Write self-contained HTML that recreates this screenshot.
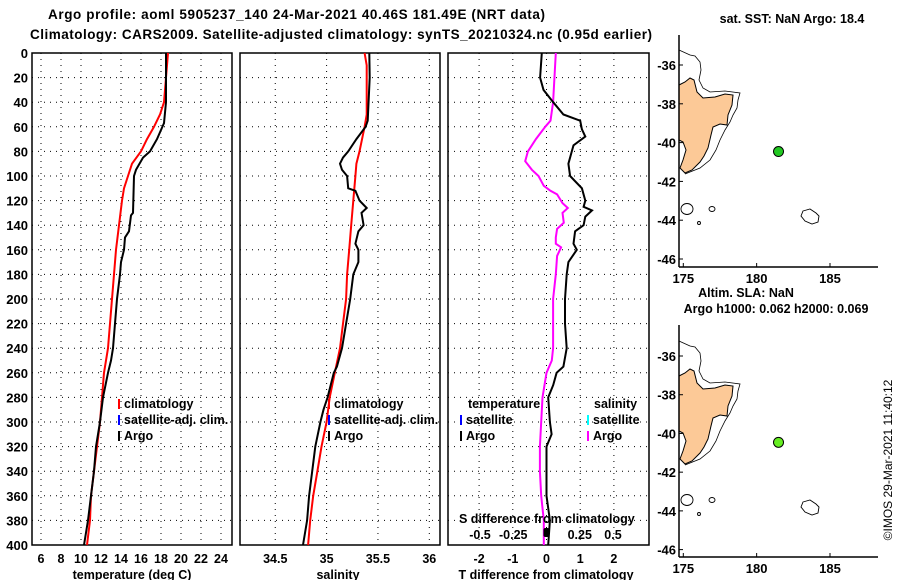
<!DOCTYPE html>
<html><head><meta charset="utf-8"><style>
body{margin:0;background:#fff;}
svg{display:block;font-family:"Liberation Sans",Arial,sans-serif;font-weight:bold;}
</style></head><body>
<svg id="c" width="900" height="580" viewBox="0 0 900 580"></svg>
<script>
// ---- data ----
const depthT = [0,40,57,70,80,85,95,100,130,132,145,150,160,170,180,200,220,240,250,260,280,300,320,340,360,380,400];
const argoTemp = [18.5,18.5,18.3,17.6,16.9,16.2,15.5,15.3,15.2,15.0,14.8,14.4,14.3,14.0,13.9,13.6,13.4,13.2,13.0,12.7,12.2,11.9,11.5,11.3,11.0,10.7,10.3];
const depthC = [0,40,50,60,70,80,90,100,110,120,140,160,180,200,220,240,260,280,300,320,340,360,380,400];
const climTemp = [18.7,18.3,17.9,17.3,16.6,16.0,15.1,14.7,14.3,14.1,13.8,13.5,13.3,13.1,12.9,12.7,12.3,12.1,11.9,11.6,11.3,11.0,10.9,10.6];
const depthS = [0,20,55,60,70,80,85,90,95,100,110,112,120,126,130,140,145,155,160,170,180,200,220,240,255,260,280,290,300,320,340,360,380,400];
const argoSal = [35.416,35.42,35.40,35.38,35.29,35.21,35.16,35.13,35.15,35.20,35.21,35.28,35.32,35.39,35.34,35.36,35.31,35.28,35.31,35.31,35.26,35.23,35.19,35.15,35.10,35.07,35.01,34.97,34.94,34.89,34.86,34.83,34.81,34.77];
const depthCS = [0,10,50,60,80,90,100,120,140,160,180,200,220,240,260,280,300,320,340,360,380,400];
const climSal = [35.37,35.39,35.39,35.37,35.32,35.29,35.28,35.26,35.24,35.22,35.20,35.19,35.16,35.13,35.08,35.03,35.00,34.95,34.91,34.87,34.84,34.82];
const depthTD = [0,20,30,40,50,55,62,68,75,80,90,100,110,120,125,128,133,140,145,155,160,170,180,200,220,240,255,260,270,280,300,310,320,340,360,380,400];
const tDiff = [-0.14,-0.19,-0.09,0.2,0.5,1.0,1.05,1.15,0.8,0.75,0.65,0.7,1.05,1.15,1.1,1.35,1.15,1.1,0.85,0.8,0.9,0.65,0.6,0.55,0.55,0.6,0.5,0.3,0.2,0.05,0.1,0.15,0,0,0,0.1,0.05];
const depthSD = [0,40,55,60,70,80,88,95,100,108,112,115,122,126,130,138,143,150,155,158,165,180,200,240,250,260,280,300,320,340,360,380,400];
const sDiff = [0.07,0.05,0.03,-0.01,-0.08,-0.14,-0.16,-0.11,-0.06,-0.02,0.03,0.08,0.12,0.16,0.12,0.13,0.08,0.07,0.07,0.11,0.08,0.07,0.05,0.05,0.04,0.0,-0.03,-0.04,-0.05,-0.05,-0.04,-0.02,-0.02];
const depthTicks = [0,20,40,60,80,100,120,140,160,180,200,220,240,260,280,300,320,340,360,380,400];
const tempTicks = [6,8,10,12,14,16,18,20,22,24];
const salTicks = [34.5,35,35.5,36];
const salTickLabels = ["34.5","35","35.5","36"];
const tdTicks = [-2,-1,0,1,2];
const sdTicks = [-0.5,-0.25,0,0.25,0.5];
const sdTickLabels = ["-0.5","-0.25","","0.25","0.5"];
const latTicks = [-36,-38,-40,-42,-44,-46];
const lonTicks = [175,180,185];
const argoLon = 181.49, argoLat = -40.46;

// ---- scales ----
const yD = d => 53 + d*1.23;
const xT = t => 41 + (t-6)*10;
const xS = s => 326.6 + (s-35)*102.7;
const xTD = t => 546.5 + t*33.7;
const xSD = s => 546.5 + s*133;
const xLon = l => 683.3 + (l-175)*14.67;
const yLat1 = l => 65 + (-36-l)*19.4;
const yLat2 = l => 356 + (-36-l)*19.36;

const NS="http://www.w3.org/2000/svg";
const svg=document.getElementById('c');
function mk(tag,attrs,parent){const e=document.createElementNS(NS,tag);for(const k in attrs)e.setAttribute(k,attrs[k]);(parent||svg).appendChild(e);return e;}
function txt(s,x,y,size,anchor,parent){const e=mk('text',{x:x,y:y,'font-size':size,'text-anchor':anchor||'start',fill:'#000'},parent);e.textContent=s;return e;}

// titles
let t1=txt("Argo profile: aoml 5905237_140 24-Mar-2021 40.46S 181.49E (NRT data)",48,19,13.5);
t1.setAttribute('textLength','497');


let t2=txt("Climatology: CARS2009. Satellite-adjusted climatology: synTS_20210324.nc (0.95d earlier)",30,39,13.5);
t2.setAttribute('textLength','622');



function panel(x0,x1,name,vticks,vx){
  const g=mk('g',{});
  
  
  depthTicks.forEach(d=>{if(d>0&&d<400)mk('line',{x1:x0,x2:x1,y1:yD(d),y2:yD(d),stroke:'#000','stroke-width':1,'stroke-dasharray':'1,5'},g);});
  vticks.forEach(v=>{const x=vx(v);mk('line',{x1:x,x2:x,y1:yD(0),y2:yD(400),stroke:'#000','stroke-width':1,'stroke-dasharray':'1,5'},g);});
  mk('rect',{x:x0,y:yD(0),width:x1-x0,height:yD(400)-yD(0),fill:'none',stroke:'#000','stroke-width':1.5},g);
  return g;
}
function line(xs,ds,xf,color,name,w){
  const p=xs.map((v,i)=>(i?'L':'M')+xf(v).toFixed(1)+','+yD(ds[i]).toFixed(1)).join(' ');
  const e=mk('path',{d:p,fill:'none',stroke:color,'stroke-width':w||2});
  
  
}

// panel 1
const g1=panel(32,232,'temperature-panel',tempTicks,xT);
depthTicks.forEach(d=>{const e=txt(String(d),28,yD(d)+5,13,'end');});
tempTicks.forEach(t=>{const e=txt(String(t),xT(t),563,12.5,'middle');});
let a1=txt("temperature (deg C)",132,579,12.5,'middle');


line(climTemp,depthC,xT,'#f00','temp-climatology-line');
line(argoTemp,depthT,xT,'#000','temp-argo-line');

// panel 2
const g2=panel(240,440,'salinity-panel',salTicks,xS);
salTicks.forEach((s,i)=>{const e=txt(salTickLabels[i],xS(s),563,12.5,'middle');});
let a2=txt("salinity",338,579,12.5,'middle');


line(climSal,depthCS,xS,'#f00','salinity-climatology-line');
line(argoSal,depthS,xS,'#000','salinity-argo-line');

// panel 3
const g3=panel(448,649,'difference-panel',tdTicks,xTD);
tdTicks.forEach(t=>{const e=txt(String(t),xTD(t),563,12.5,'middle');});
let a3=txt("T difference from climatology",546,579,12.5,'middle');


line(sDiff,depthSD,xSD,'#f0f','salinity-diff-line');
line(tDiff,depthTD,xTD,'#000','temp-diff-line');
let sl=txt("S difference from climatology",459,523,12.5);


sdTicks.forEach((s,i)=>{if(sdTickLabels[i]){const e=txt(sdTickLabels[i],xSD(s),539,12.5,'middle');}});
let zm=mk('rect',{x:xSD(0)-3,y:528,width:6,height:9,rx:2,fill:'#000'});



// legends
function legEntry(x,y,color,label,name){
  const g=mk('g',{});
  
  
  mk('rect',{x:x,y:y-9,width:2,height:10,fill:color},g);
  txt(label,x+6,y,12.5,'start',g);
}
legEntry(118,408,'#f00','climatology','legend-climatology');
legEntry(118,424,'#00f','satellite-adj. clim.','legend-satellite-adj');
legEntry(118,440,'#000','Argo','legend-argo');
legEntry(328,408,'#f00','climatology','legend-sal-climatology');
legEntry(328,424,'#00f','satellite-adj. clim.','legend-sal-satellite-adj');
legEntry(328,440,'#000','Argo','legend-sal-argo');
let lt=txt("temperature",468,408,12.5);
legEntry(460,424,'#00f','satellite','legend-t-satellite');
legEntry(460,440,'#000','Argo','legend-t-argo');
let ls=txt("salinity",594,408,12.5);
legEntry(587,424,'#0ff','satellite','legend-s-satellite');
legEntry(587,440,'#f0f','Argo','legend-s-argo');

// maps
function map(top,bottom,yLat,dy,dotColor,name){
  const g=mk('g',{});
  
  
  const c=mk('g',{transform:'translate(0,'+dy+')'},g);
  mk('path',{d:'M679,50 L690,55 L695,56 L700,62 L701,70 L699,80 L703,88 L710,92 L725,91 L740,93 L738,100 L737,108 L733,115 L730,122 L725,130 L720,140 L716,150 L710,160 L700,168 L690,172 L685,174',fill:'none',stroke:'#000','stroke-width':0.8},c);
  mk('path',{d:'M679,85 L685,82 L690,78 L694,80 L697,92 L703,98 L715,97 L725,94 L733,95 L732,105 L728,115 L727,125 L720,124 L713,127 L711,135 L708,148 L704,156 L700,162 L692,170 L685,173 L680,168 L683,160 L686,150 L683,142 L679,140 Z',fill:'#fcc997',stroke:'#000','stroke-width':1},c);
  mk('ellipse',{cx:687,cy:209,rx:6,ry:5.5,fill:'none',stroke:'#000','stroke-width':0.9},c);
  mk('ellipse',{cx:712,cy:209,rx:3,ry:2.5,fill:'none',stroke:'#000','stroke-width':0.9},c);
  mk('circle',{cx:699,cy:223,r:1.5,fill:'none',stroke:'#000','stroke-width':0.9},c);
  mk('path',{d:'M803,211 L810,209 L816,213 L819,216 L818,222 L812,224 L805,221 L801,216 Z',fill:'none',stroke:'#000','stroke-width':0.9},c);
  mk('line',{x1:679,x2:679,y1:top,y2:bottom,stroke:'#000','stroke-width':1.5},g);
  mk('line',{x1:679,x2:878,y1:bottom,y2:bottom,stroke:'#000','stroke-width':1.5},g);
  latTicks.forEach(l=>{const y=yLat(l);mk('line',{x1:679,x2:683,y1:y,y2:y,stroke:'#000'},g);txt(String(l),676,y+5,13,'end',g);});
  lonTicks.forEach(l=>{const x=xLon(l);mk('line',{x1:x,x2:x,y1:bottom,y2:bottom-4,stroke:'#000'},g);txt(String(l),x,bottom+16,13,'middle',g);});
  const dot=mk('circle',{cx:xLon(argoLon),cy:yLat(argoLat),r:5,fill:dotColor,stroke:'#000','stroke-width':1});
  
  
}
map(35,267,yLat1,0,'#22c822','sst-map');
map(325,557,yLat2,291,'#66ee22','sla-map');
let m1=txt("sat. SST: NaN Argo: 18.4",792,23,12.5,'middle');
let m2=txt("Altim. SLA: NaN",746,297,12.5,'middle');
let m3=txt("Argo h1000: 0.062 h2000: 0.069",776,313,12.5,'middle');
let cp=mk('text',{x:0,y:0,'font-size':12,'font-weight':'normal','text-anchor':'middle',transform:'translate(892,460) rotate(-90)',fill:'#000'});
cp.textContent="©IMOS 29-Mar-2021 11:40:12";


</script>
</body></html>
